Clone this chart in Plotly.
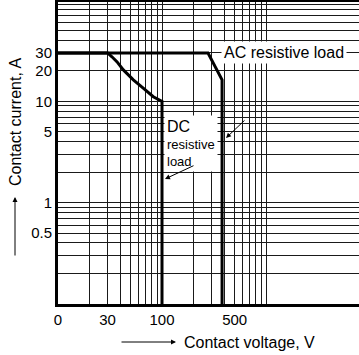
import plotly.graph_objects as go

# --- data ---
ac_voltage = [10, 30, 277, 378, 378]
ac_current = [30, 30, 30, 16.3, 0.1]

dc_voltage = [10, 30, 33, 37, 42.5, 53, 66, 82.5, 100, 100]
dc_current = [30, 30, 27.5, 24.5, 20.4, 16.3, 13.5, 11.1, 10, 0.1]

x_grid = [10, 20, 30, 40, 50, 60, 70, 80, 90, 100, 200, 300, 400, 500, 600, 700, 800, 900, 1000]
x_labels = {10: "0", 30: "30", 100: "100", 500: "500"}
y_grid = [0.1, 0.2, 0.3, 0.4, 0.5, 0.6, 0.7, 0.8, 0.9, 1, 2, 3, 4, 5, 6, 7, 8, 9,
          10, 20, 30, 40, 50, 60, 70, 80, 90, 100]
y_labels = {0.5: "0.5", 1: "1", 5: "5", 10: "10", 20: "20", 30: "30"}

FONT = "Liberation Sans, Arial, sans-serif"
W, H = 359, 355
L, R, T, B = 58, 0, 2, 51
PW, PH = W - L - R, H - T - B


def px(x):
    return (x - L) / PW


def py(y):
    return (H - B - y) / PH


fig = go.Figure()
for xs, ys in [(ac_voltage, ac_current), (dc_voltage, dc_current)]:
    fig.add_trace(go.Scatter(x=xs, y=ys, mode="lines",
                             line=dict(color="black", width=3),
                             hoverinfo="skip", showlegend=False))

grid_col = "#1a1a1a"
fig.update_xaxes(type="log", range=[1, 1 + 301 / 104],
                 tickvals=x_grid, ticktext=[x_labels.get(v, "") for v in x_grid],
                 showgrid=True, gridcolor=grid_col, gridwidth=1,
                 showline=True, linecolor="black", linewidth=3, mirror=True,
                 ticks="", tickfont=dict(family=FONT, size=15, color="black"))
fig.update_yaxes(type="log", range=[-1, 1.98],
                 tickvals=y_grid, ticktext=[y_labels.get(v, "") for v in y_grid],
                 showgrid=True, gridcolor=grid_col, gridwidth=1,
                 showline=True, linecolor="black", linewidth=3, mirror=False,
                 ticks="", tickfont=dict(family=FONT, size=15, color="black"))

annotations = [
    dict(text="AC resistive load", xref="paper", yref="y", x=px(284), y=1.477,
         showarrow=False, font=dict(family=FONT, size=16, color="black"),
         xanchor="center", yanchor="middle", bgcolor="white", borderpad=2),
    dict(text="<span style='font-size:16px'>DC</span><br>resistive<br>load",
         xref="paper", yref="paper", x=px(164), y=py(115),
         showarrow=False, align="left", xanchor="left", yanchor="top",
         bgcolor="white", borderpad=2,
         font=dict(family=FONT, size=13, color="black")),
    # leader arrows
    dict(text="", xref="paper", yref="paper", x=px(165), y=py(179), ax=30, ay=-14,
         showarrow=True, arrowhead=2, arrowsize=1, arrowwidth=1, arrowcolor="black"),
    dict(text="", xref="paper", yref="paper", x=px(226), y=py(138), ax=20, ay=-19,
         showarrow=True, arrowhead=2, arrowsize=1, arrowwidth=1, arrowcolor="black"),
    # axis titles
    dict(text="Contact current, A", xref="paper", yref="paper", x=px(15), y=py(122),
         textangle=-90, showarrow=False, xanchor="center", yanchor="middle",
         font=dict(family=FONT, size=16, color="black")),
    dict(text="", xref="paper", yref="paper", x=px(15), y=py(197), ax=0, ay=60,
         showarrow=True, arrowhead=2, arrowsize=1, arrowwidth=1, arrowcolor="black"),
    dict(text="Contact voltage, V", xref="paper", yref="paper", x=px(249), y=py(342),
         showarrow=False, xanchor="center", yanchor="middle",
         font=dict(family=FONT, size=16, color="black")),
    dict(text="", xref="paper", yref="paper", x=px(176), y=py(342), ax=-56, ay=0,
         showarrow=True, arrowhead=2, arrowsize=1, arrowwidth=1, arrowcolor="black"),
]

fig.update_layout(width=W, height=H, margin=dict(l=L, r=R, t=T, b=B),
                  paper_bgcolor="white", plot_bgcolor="white",
                  annotations=annotations,
                  font=dict(family=FONT, color="black"))

fig.write_html("out.html", config={"displayModeBar": False},
               post_script="document.body.style.margin='0';document.body.style.padding='0';")
